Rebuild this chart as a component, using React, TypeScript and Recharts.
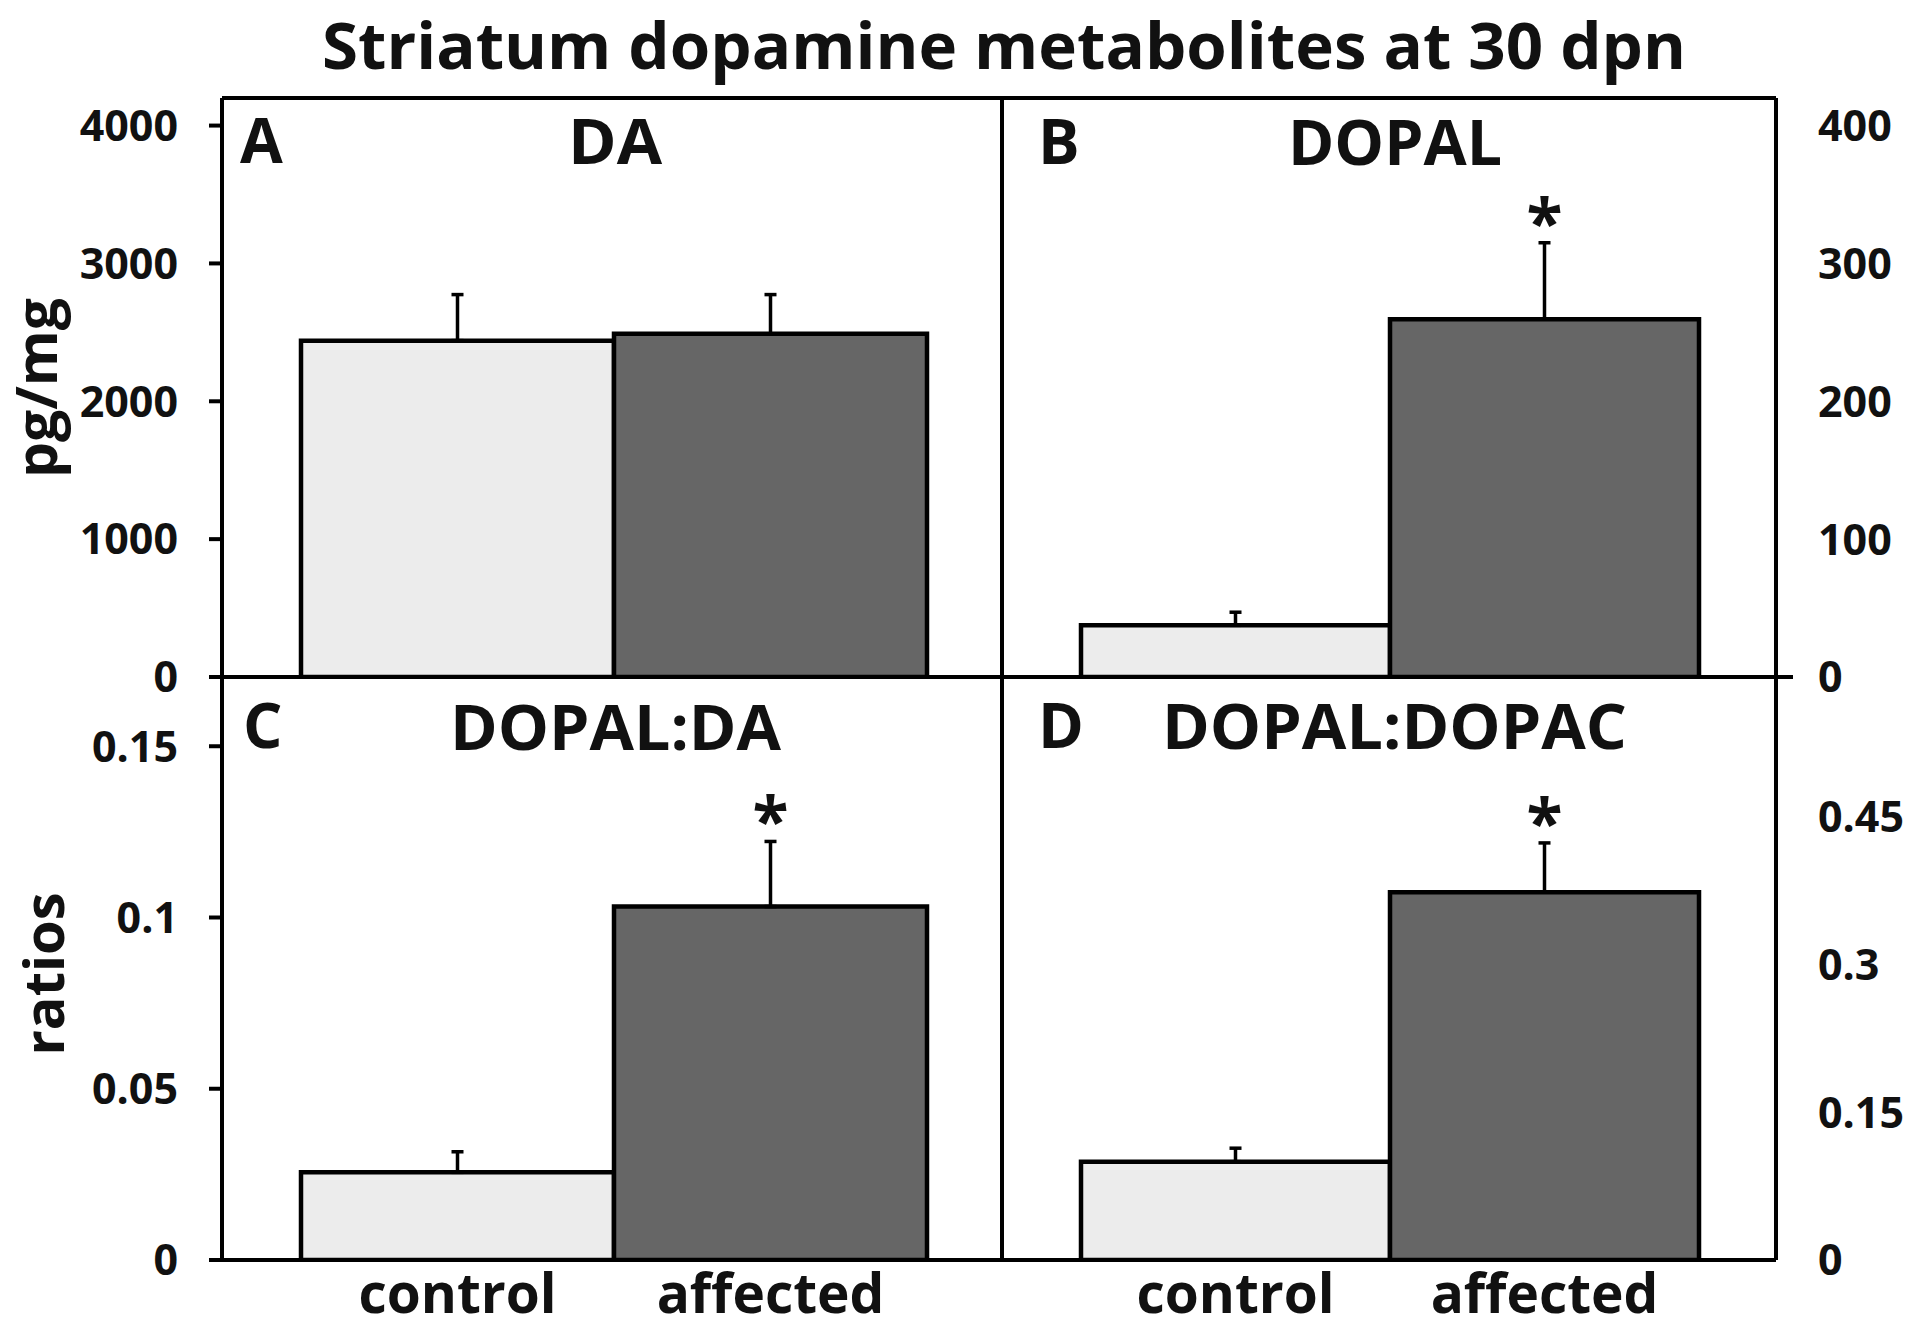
import React from 'react';
import { BarChart, Bar, XAxis, YAxis, Cell, ErrorBar, ReferenceDot } from 'recharts';

// ---------- data ----------
const categories = ['control', 'affected'];
const daMean = [2440, 2490];
const daSem = [334, 284];
const dopalMean = [37.5, 259.5];
const dopalSem = [9.5, 55.5];
const dopalDaMean = [0.0256, 0.1032];
const dopalDaSem = [0.006, 0.019];
const dopalDopacMean = [0.0997, 0.373];
const dopalDopacSem = [0.0137, 0.05];
const noSig = [false, false];
const affectedSig = [false, true];

const daTicks = [0, 1000, 2000, 3000, 4000];
const dopalTicks = [0, 100, 200, 300, 400];
const dopalDaTicks = [0, 0.05, 0.1, 0.15];
const dopalDopacTicks = [0, 0.15, 0.3, 0.45];

const chartTitle = 'Striatum dopamine metabolites at 30 dpn';
const panelLetters = ['A', 'B', 'C', 'D'];
const panelTitles = ['DA', 'DOPAL', 'DOPAL:DA', 'DOPAL:DOPAC'];
const axisTitles = ['pg/mg', 'ratios'];

// ---------- styles ----------
const W = 1920;
const H = 1332;
const FONT = "'Open Sans', 'DejaVu Sans', sans-serif";
const INK = '#111111';
const FRAME_W = 4;
const fills = ['#ececec', '#666666'];
const lineStyle = { stroke: '#000', strokeWidth: FRAME_W };

type PanelProps = {
  means: number[];
  sems: number[];
  sig: boolean[];
  domain: [number, number];
  ticks: number[];
  x0: number;
  x1: number;
  y0: number;
  y1: number;
  side: 'left' | 'right';
  bottomLabels: boolean;
  topLine: boolean;
  zeroExt?: boolean;
};

const makeRightTick = (zeroExt: boolean) => (props: any) => {
  const { x, y, payload } = props;
  return (
    <g>
      {zeroExt && payload.value === 0 ? (
        <line x1={x - 42} y1={y} x2={x - 25} y2={y} stroke="#000" strokeWidth={FRAME_W} />
      ) : null}
      <text x={x} y={y} dy="0.36em" textAnchor="start" fontFamily={FONT} fontWeight={700} fontSize={43} fill={INK}>
        {String(payload.value)}
      </text>
    </g>
  );
};

function Panel(p: PanelProps) {
  const data = categories.map((c, i) => ({
    cat: c,
    value: p.means[i],
    err: [0, p.sems[i]],
    top: p.means[i] + p.sems[i],
  }));
  const leftW = p.side === 'left' ? 120 : 2;
  const rightW = p.side === 'right' ? 140 : 2;
  const xh = p.bottomLabels ? 72 : 2;
  const th = 2;
  const margin = {
    left: p.x0 - leftW,
    right: W - p.x1 - rightW,
    top: p.y0 - th,
    bottom: H - p.y1 - xh,
  };
  const valueAxis = p.side === 'left' ? 'l' : 'r';
  const pad = { left: 79, right: 77 };
  return (
    <div style={{ position: 'absolute', left: 0, top: 0 }}>
      <BarChart width={W} height={H} data={data} margin={margin} barCategoryGap={0} barGap={0}>
        <XAxis
          xAxisId="b"
          dataKey="cat"
          orientation="bottom"
          height={xh}
          padding={pad}
          interval={0}
          tickLine={false}
          tickSize={0}
          tickMargin={14}
          axisLine={lineStyle}
          tick={p.bottomLabels ? { fontFamily: FONT, fontWeight: 700, fontSize: 55, fill: INK } : false}
        />
        {p.topLine ? (
          <XAxis
            xAxisId="t"
            dataKey="cat"
            orientation="top"
            height={th}
            padding={pad}
            tickLine={false}
            tick={false}
            axisLine={lineStyle}
          />
        ) : null}
        {p.side === 'left' ? (
          <YAxis
            yAxisId="l"
            orientation="left"
            type="number"
            width={leftW}
            domain={p.domain}
            ticks={p.ticks}
            allowDataOverflow
            interval={0}
            tickSize={13}
            tickMargin={31}
            axisLine={lineStyle}
            tickLine={lineStyle}
            tick={{ fontFamily: FONT, fontWeight: 700, fontSize: 43, fill: INK }}
          />
        ) : (
          <YAxis
            yAxisId="l"
            orientation="left"
            type="number"
            width={leftW}
            domain={p.domain}
            ticks={p.ticks.filter((t) => t !== 0)}
            allowDataOverflow
            interval={0}
            tickSize={-16}
            axisLine={lineStyle}
            tickLine={lineStyle}
            tick={false}
          />
        )}
        {p.side === 'right' ? (
          <YAxis
            yAxisId="r"
            orientation="right"
            type="number"
            width={rightW}
            domain={p.domain}
            ticks={p.ticks}
            allowDataOverflow
            interval={0}
            tickSize={0}
            tickMargin={42}
            axisLine={lineStyle}
            tickLine={false}
            tick={makeRightTick(!!p.zeroExt)}
          />
        ) : null}
        <Bar
          xAxisId="b"
          yAxisId={valueAxis}
          dataKey="value"
          stroke="#000"
          strokeWidth={4.5}
          isAnimationActive={false}
        >
          {data.map((d, i) => (
            <Cell key={d.cat} fill={fills[i]} />
          ))}
          <ErrorBar dataKey="err" direction="y" width={6} stroke="#000" strokeWidth={3.5} isAnimationActive={false} />
        </Bar>
        {data.map((d, i) =>
          p.sig[i] ? (
            <ReferenceDot
              key={'s' + d.cat}
              xAxisId="b"
              yAxisId={valueAxis}
              x={d.cat}
              y={d.top}
              r={0}
              ifOverflow="visible"
              shape={(sp: any) => (
                <text
                  x={sp.cx}
                  y={sp.cy + 4}
                  textAnchor="middle"
                  fontFamily={FONT}
                  fontWeight={700}
                  fontSize={66}
                  fill={INK}
                >
                  *
                </text>
              )}
            />
          ) : null
        )}
      </BarChart>
    </div>
  );
}

export default function App() {
  const X0 = 222;
  const XM = 1002;
  const X1 = 1776;
  const Y0 = 98;
  const YM = 677;
  const Y1 = 1260;
  const txt = { fontFamily: FONT, fontWeight: 700, fill: INK } as const;
  return (
    <div style={{ position: 'absolute', left: 0, top: 0, width: W, height: H, background: '#fff' }}>
      <Panel means={daMean} sems={daSem} sig={noSig} domain={[0, 4200]} ticks={daTicks}
        x0={X0} x1={XM} y0={Y0} y1={YM} side="left" bottomLabels={false} topLine />
      <Panel means={dopalMean} sems={dopalSem} sig={affectedSig} domain={[0, 420]} ticks={dopalTicks}
        x0={XM} x1={X1} y0={Y0} y1={YM} side="right" bottomLabels={false} topLine zeroExt />
      <Panel means={dopalDaMean} sems={dopalDaSem} sig={affectedSig} domain={[0, 0.1708]} ticks={dopalDaTicks}
        x0={X0} x1={XM} y0={YM} y1={Y1} side="left" bottomLabels topLine={false} />
      <Panel means={dopalDopacMean} sems={dopalDopacSem} sig={affectedSig} domain={[0, 0.5933]} ticks={dopalDopacTicks}
        x0={XM} x1={X1} y0={YM} y1={Y1} side="right" bottomLabels topLine={false} />
      <svg width={W} height={H} style={{ position: 'absolute', left: 0, top: 0, pointerEvents: 'none' }}>
        <text x={322} y={69} fontSize={64} textLength={1364} lengthAdjust="spacingAndGlyphs" {...txt}>
          {chartTitle}
        </text>
        <text x={240} y={163} fontSize={62} {...txt}>{panelLetters[0]}</text>
        <text x={1038} y={164} fontSize={62} {...txt}>{panelLetters[1]}</text>
        <text x={243} y={748} fontSize={62} {...txt}>{panelLetters[2]}</text>
        <text x={1038} y={748} fontSize={62} {...txt}>{panelLetters[3]}</text>
        <text x={568} y={164} fontSize={62} textLength={94} lengthAdjust="spacingAndGlyphs" {...txt}>{panelTitles[0]}</text>
        <text x={1288} y={165} fontSize={62} textLength={214} lengthAdjust="spacingAndGlyphs" {...txt}>{panelTitles[1]}</text>
        <text x={450} y={750} fontSize={62} textLength={331} lengthAdjust="spacingAndGlyphs" {...txt}>{panelTitles[2]}</text>
        <text x={1162} y={749} fontSize={62} textLength={465} lengthAdjust="spacingAndGlyphs" {...txt}>{panelTitles[3]}</text>
        <text x={0} y={0} fontSize={57} textAnchor="middle" dominantBaseline="central"
          transform="translate(35 388) rotate(-90)" {...txt}>{axisTitles[0]}</text>
        <text x={0} y={0} fontSize={56} textAnchor="middle" dominantBaseline="central"
          transform="translate(42 974) rotate(-90)" {...txt}>{axisTitles[1]}</text>
      </svg>
    </div>
  );
}
